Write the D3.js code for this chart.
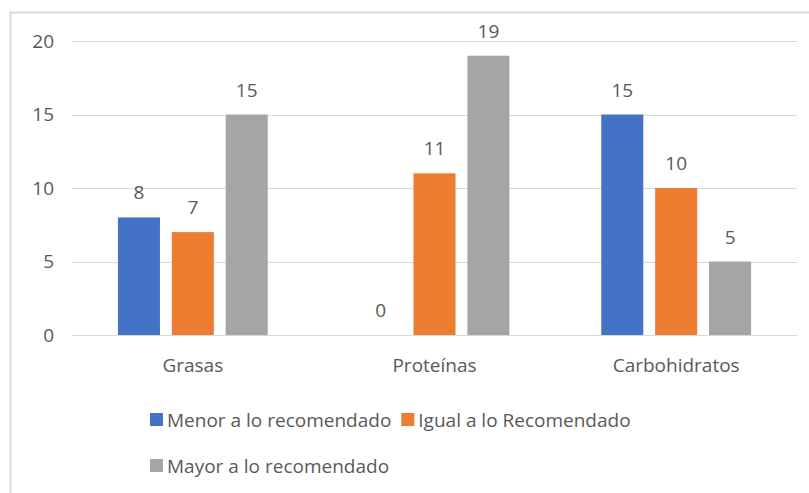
<!DOCTYPE html>
<html>
<head>
<meta charset="utf-8">
<script src="https://cdn.jsdelivr.net/npm/d3@7"></script>
<style>
  body { margin: 0; background: #fff; }
  text { font-family: "Open Sans", "Noto Sans", sans-serif; fill: #595959; }
</style>
</head>
<body>
<div id="chart"></div>
<script>
// data
var categories = ['Grasas', 'Proteínas', 'Carbohidratos'];
var seriesNames = ['Menor a lo recomendado', 'Igual a lo Recomendado', 'Mayor a lo recomendado'];
var menor = [8, 0, 15];
var igual = [7, 11, 10];
var mayor = [15, 19, 5];
var yTicks = [0, 5, 10, 15, 20];
var colors = ['#4472c4', '#ed7d31', '#a5a5a5'];

var W = 809, H = 493;
var margin = {top: 41, right: 12, bottom: 158, left: 72};
var width = W - margin.left - margin.right,
    height = H - margin.top - margin.bottom;
var fs = '19px';

var svg = d3.select('#chart').append('svg')
    .attr('width', W)
    .attr('height', H);

// outer chart border
svg.append('rect')
    .attr('x', 10.5).attr('y', 12.5)
    .attr('width', W + 20).attr('height', H + 20)
    .attr('fill', 'none')
    .attr('stroke', '#d9d9d9')
    .attr('stroke-width', 2);

var g = svg.append('g')
    .attr('transform', `translate(${margin.left},${margin.top})`);

var values = [menor, igual, mayor];

var x0 = d3.scaleBand()
    .domain(categories)
    .range([0, width])
    .paddingInner(0.38)
    .paddingOuter(0.19);

var x1 = d3.scaleBand()
    .domain(d3.range(seriesNames.length))
    .range([0, x0.bandwidth()])
    .paddingInner(0.22);

var y = d3.scaleLinear()
    .domain([0, 20])
    .range([height, 0]);

// gridlines
g.append('g').selectAll('line')
    .data(yTicks)
    .enter()
    .append('line')
    .attr('x1', 0).attr('x2', width)
    .attr('y1', d => Math.round(y(d)) + 0.5)
    .attr('y2', d => Math.round(y(d)) + 0.5)
    .attr('stroke', '#d9d9d9')
    .attr('stroke-width', 1);

// y axis labels
var yAxis = d3.axisLeft(y).tickValues(yTicks).tickSize(0).tickPadding(18);
var ya = g.append('g').call(yAxis);
ya.select('.domain').remove();
ya.selectAll('text')
    .style('font-size', fs)
    .style('fill', '#595959')
    .style('font-family', '"Open Sans", sans-serif');

// x axis labels
var xAxis = d3.axisBottom(x0).tickSize(0).tickPadding(24);
var xa = g.append('g')
    .attr('transform', `translate(0,${height})`)
    .call(xAxis);
xa.select('.domain').remove();
xa.selectAll('text')
    .style('font-size', fs)
    .style('fill', '#595959')
    .style('font-family', '"Open Sans", sans-serif');

// bars
var groups = g.selectAll('.cat')
    .data(categories)
    .enter()
    .append('g')
    .attr('class', 'cat')
    .attr('transform', d => `translate(${x0(d)},0)`);

groups.selectAll('rect')
    .data((d, i) => values.map((s, j) => ({s: j, v: s[i]})))
    .enter()
    .append('rect')
    .attr('x', d => x1(d.s))
    .attr('y', d => y(d.v))
    .attr('width', x1.bandwidth())
    .attr('height', d => height - y(d.v))
    .attr('fill', d => colors[d.s]);

// value labels
groups.selectAll('text.val')
    .data((d, i) => values.map((s, j) => ({s: j, v: s[i]})))
    .enter()
    .append('text')
    .attr('class', 'val')
    .attr('x', d => x1(d.s) + x1.bandwidth() / 2)
    .attr('y', d => y(d.v) - 18)
    .attr('text-anchor', 'middle')
    .style('font-size', fs)
    .text(d => d.v);

// legend
var legendRows = [[0, 1], [2]];
var legend = svg.append('g');
var lx = 150;
legendRows.forEach(function (row, r) {
    var cx = lx;
    var cy = 420 + r * 46;
    row.forEach(function (s) {
        legend.append('rect')
            .attr('x', cx).attr('y', cy - 7)
            .attr('width', 13).attr('height', 13)
            .attr('fill', colors[s]);
        var t = legend.append('text')
            .attr('x', cx + 17).attr('y', cy)
            .attr('dy', '0.35em')
            .style('font-size', fs)
            .text(seriesNames[s]);
        cx = cx + 17 + t.node().getComputedTextLength() + 10;
    });
});
</script>
</body>
</html>
